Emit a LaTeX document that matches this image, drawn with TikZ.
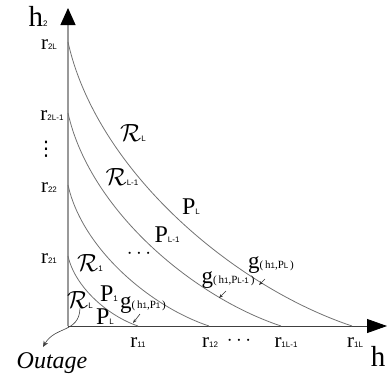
\documentclass[tikz,border=0pt]{standalone}
\usepackage{fontspec}
\setmainfont{Liberation Serif}
\setsansfont{Liberation Sans}
\newfontfamily\symfont{DejaVu Sans}
\usetikzlibrary{arrows.meta}
\newcommand{\sbs}[1]{\textsf{\fontsize{8}{8}\selectfont #1}}
\newcommand{\rlab}[1]{{\fontsize{21}{21}\selectfont r}\sbs{#1}}
\newcommand{\plab}[1]{{\fontsize{24}{24}\selectfont P}\sbs{#1}}
\newcommand{\Rlab}[1]{{\fontsize{25}{25}\selectfont$\mathcal{R}$}\sbs{#1}}
\newcommand{\glab}[1]{{\fontsize{23}{23}\selectfont g}{\fontsize{11}{11}\selectfont (\,h\sbs{1},P\sbs{#1}\,)}}
\begin{document}
\begin{tikzpicture}[x=1pt,y=-1pt,
  lab/.style={inner sep=0pt, outer sep=0pt},
  curve/.style={draw=black!55, line width=0.8pt},
  small arrow/.style={draw=black!80, line width=0.6pt, -{Stealth[length=4pt,width=3pt]}}]
\useasboundingbox (0,0) rectangle (387,383);
% axes
\coordinate (O) at (68,326);
\coordinate (Ytip) at (68,8);
\coordinate (Xtip) at (387,326);
\draw[black!40, line width=1.2pt, -{Triangle[length=17pt,width=15pt,black]}] (O) -- (Ytip);
\draw[black!75, line width=0.8pt, -{Triangle[length=20pt,width=14pt,black]}] (O) -- (Xtip);
% curve end points
\coordinate (a4) at (68,42);  \coordinate (b4) at (352,326);
\coordinate (a3) at (68,113); \coordinate (b3) at (281,326);
\coordinate (a2) at (68,185); \coordinate (b2) at (209,326);
\coordinate (a1) at (68,256); \coordinate (b1) at (138,326);
\draw[curve] (a4) .. controls (96.4,169.8) and (232.7,286.2) .. (b4);
\draw[curve] (a3) .. controls (89.3,208.8) and (191.5,296.2) .. (b3);
\draw[curve] (a2) .. controls (82.1,248.4) and (149.8,306.3) .. (b2);
\draw[curve] (a1) .. controls (75,287.5) and (108.6,316.2) .. (b1);
% axis labels
\node[lab] (h2) at (38,16) {{\fontsize{29}{29}\selectfont h}\sbs{2}};
\node[lab] (h1) at (378,356) {{\fontsize{29}{29}\selectfont h}};
\node[lab] (r2L) at (49,45) {\rlab{2L}};
\node[lab] (r2Lm) at (52,116) {\rlab{2L-1}};
\node[lab] (vd) at (46,149) {\symfont\fontsize{20}{20}\selectfont ⋮};
\node[lab] (r22) at (49,188) {\rlab{22}};
\node[lab] (r21) at (49,259) {\rlab{21}};
\node[lab] (r11) at (138,343) {\rlab{11}};
\node[lab] (r12) at (210,343) {\rlab{12}};
\node[lab] (hd) at (239,341) {\fontsize{20}{20}\selectfont$\cdots$};
\node[lab] (r1Lm) at (286,343) {\rlab{1L-1}};
\node[lab] (r1L) at (355,343) {\rlab{1L}};
% region labels
\node[lab] (RLtop) at (133,133) {\Rlab{L}};
\node[lab] (RLm) at (122,177) {\Rlab{L-1}};
\node[lab] (R1) at (90,263) {\Rlab{1}};
\node[lab] (RL) at (80,300) {\Rlab{L}};
\node[lab] (PL) at (191,207) {\plab{L}};
\node[lab] (PLm) at (167,235) {\plab{L-1}};
\node[lab] (md) at (139,254) {\fontsize{20}{20}\selectfont$\cdots$};
\node[lab] (P1) at (109,294) {\plab{1}};
\node[lab] (PLb) at (105,317) {\plab{L}};
% g labels
\node[lab] (g1) at (143,305) {\glab{1}};
\node[lab] (gLm) at (228,280) {\glab{L-1}};
\node[lab] (gL) at (271,265) {\glab{L}};
\coordinate (g1e) at (133,323);
\coordinate (gLme) at (219,298);
\coordinate (gLe) at (259,285);
\draw[small arrow] (140,314) -- (g1e);
\draw[small arrow] (226,291) -- (gLme);
\draw[small arrow] (265,279) -- (gLe);
% outage
\node[lab] (out) at (52,363) {\fontsize{24}{24}\selectfont\itshape Outage};
\draw[black!75, line width=0.6pt, -{Stealth[length=6pt,width=5pt]}] (RL.south) .. controls (79,333) and (55,326) .. (43,347);
\end{tikzpicture}
\end{document}
